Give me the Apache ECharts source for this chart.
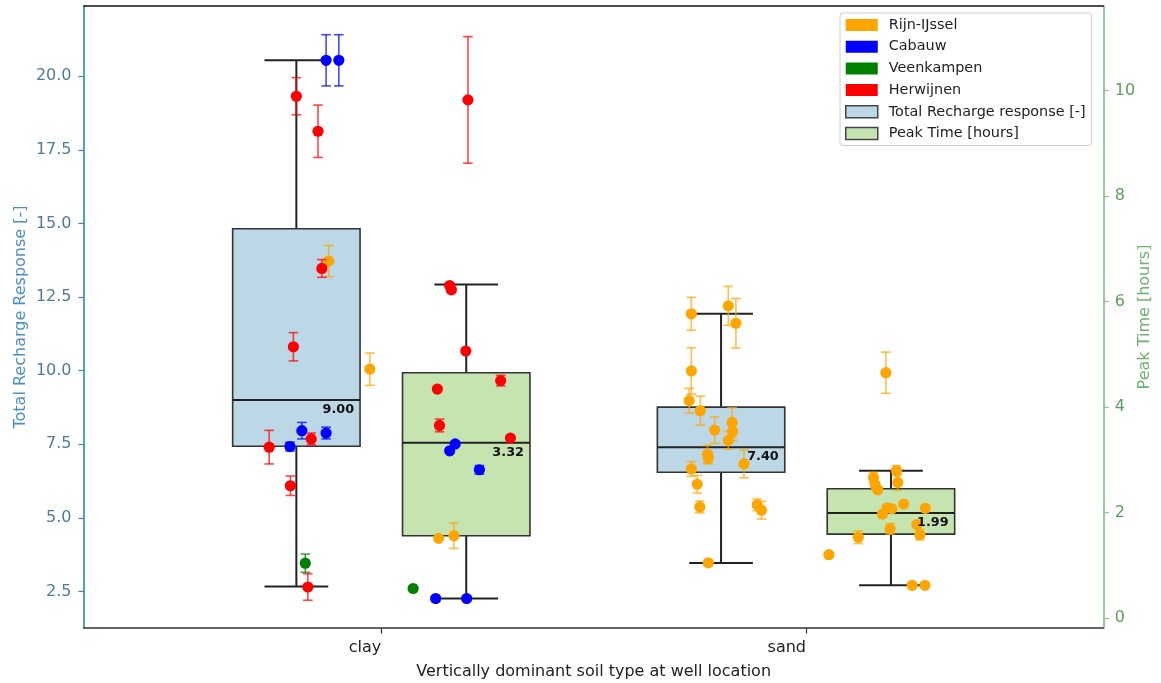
<!DOCTYPE html>
<html>
<head>
<meta charset="utf-8">
<script src="https://cdn.jsdelivr.net/npm/echarts@6/dist/echarts.min.js"></script>
<style>
html,body{margin:0;padding:0;background:#fff;}
#chart{width:1161px;height:683px;}
</style>
</head>
<body>
<div id="chart"></div>
<script>
// ---------------- DATA ----------------
const categories = ['clay', 'sand'];
const locations = ['Rijn-IJssel', 'Cabauw', 'Veenkampen', 'Herwijnen'];
const locColors = ['#ffa500', '#0000ff', '#008000', '#ff0000'];
const boxNames = ['Total Recharge response [-]', 'Peak Time [hours]'];
const boxColors = ['#bcd8e6', '#c6e4b0'];

// box stats per soil type: [lower whisker, Q1, median, Q3, upper whisker]
const rechargeBox = [
  [2.67, 7.43, 9.00, 14.82, 20.54],
  [3.47, 6.55, 7.40, 8.76, 11.93]
];
const peakBox = [
  [0.37, 1.56, 3.32, 4.65, 6.32],
  [0.62, 1.59, 1.99, 2.45, 2.79]
];

// points: [location index, jitter, value, error]
const clayRecharge = [
  [1, 0.070, 20.54, 0.87], [1, 0.100, 20.54, 0.87], [3, 0.000, 19.32, 0.63],
  [3, 0.051, 18.13, 0.89], [0, 0.076, 13.72, 0.53], [3, 0.060, 13.47, 0.30],
  [3, -0.007, 10.81, 0.48], [0, 0.173, 10.05, 0.55], [1, 0.013, 7.96, 0.28],
  [1, 0.070, 7.88, 0.20], [3, 0.035, 7.68, 0.20], [1, -0.015, 7.42, 0.15],
  [3, -0.064, 7.40, 0.57], [3, -0.014, 6.09, 0.33], [2, 0.021, 3.46, 0.31],
  [3, 0.027, 2.65, 0.45]
];
const clayPeak = [
  [3, 0.004, 9.82, 1.20], [3, -0.039, 6.30, 0.05], [3, -0.035, 6.22, 0.05],
  [3, -0.001, 5.06, 0.00], [3, -0.068, 4.34, 0.00], [3, 0.081, 4.50, 0.10],
  [3, -0.063, 3.65, 0.12], [3, 0.104, 3.41, 0.00], [1, -0.026, 3.30, 0.00],
  [1, -0.039, 3.17, 0.00], [1, 0.031, 2.81, 0.08], [0, -0.065, 1.51, 0.00],
  [0, -0.029, 1.56, 0.24], [2, -0.125, 0.56, 0.00], [1, -0.072, 0.37, 0.00],
  [1, 0.001, 0.37, 0.00]
];
const sandRecharge = [
  [0, -0.070, 11.93, 0.56], [0, 0.017, 12.20, 0.66], [0, 0.035, 11.61, 0.84],
  [0, -0.070, 9.99, 0.79], [0, -0.075, 8.98, 0.42], [0, -0.049, 8.64, 0.49],
  [0, -0.015, 7.98, 0.45], [0, 0.026, 8.24, 0.50], [0, 0.027, 7.93, 0.30],
  [0, 0.017, 7.63, 0.30], [0, -0.032, 7.16, 0.30], [0, -0.030, 7.03, 0.20],
  [0, 0.054, 6.83, 0.47], [0, -0.070, 6.66, 0.25], [0, -0.056, 6.14, 0.30],
  [0, -0.050, 5.37, 0.20], [0, 0.085, 5.44, 0.20], [0, 0.095, 5.26, 0.30],
  [0, -0.030, 3.47, 0.10]
];
const sandPeak = [
  [0, -0.012, 4.65, 0.39], [0, 0.013, 2.79, 0.10], [0, -0.041, 2.66, 0.10],
  [0, 0.016, 2.57, 0.15], [0, -0.037, 2.52, 0.05], [0, -0.031, 2.43, 0.05],
  [0, 0.030, 2.16, 0.00], [0, -0.009, 2.09, 0.05], [0, 0.002, 2.07, 0.00],
  [0, 0.081, 2.08, 0.00], [0, -0.020, 1.97, 0.05], [0, 0.061, 1.77, 0.05],
  [0, -0.002, 1.69, 0.10], [0, 0.068, 1.58, 0.10], [0, -0.077, 1.53, 0.12],
  [0, -0.146, 1.20, 0.00], [0, 0.050, 0.62, 0.00], [0, 0.080, 0.62, 0.00]
];

// tick labels
const rechargeTicks = [2.5, 5.0, 7.5, 10.0, 12.5, 15.0, 17.5, 20.0];
const peakTicks = [0, 2, 4, 6, 8, 10];

// ---------------- LAYOUT CONSTANTS ----------------
const FONT = 'DejaVu Sans, sans-serif';
const BOX_OFFSET = 0.2;
const BOX_WIDTH = 0.3;
const CAP_WIDTH = 0.15;
const MARK_R = 5.6;
const ERR_CAP = 4.8;

const chart = echarts.init(document.getElementById('chart'), null, {renderer: 'canvas'});

function renderBox(params, api) {
  const x = api.value(0);
  const lo = api.value(1), q1 = api.value(2), med = api.value(3), q3 = api.value(4), hi = api.value(5);
  const hw = BOX_WIDTH / 2, cw = CAP_WIDTH / 2;
  const tl = api.coord([x - hw, q3]);
  const br = api.coord([x + hw, q1]);
  const pMed = api.coord([x - hw, med]);
  const pMedR = api.coord([x + hw, med]);
  const pHi = api.coord([x, hi]);
  const pLo = api.coord([x, lo]);
  const pQ3 = api.coord([x, q3]);
  const pQ1 = api.coord([x, q1]);
  const capL = api.coord([x - cw, hi])[0];
  const capR = api.coord([x + cw, hi])[0];
  const fill = api.visual('color');
  const lineSty = {stroke: '#222', lineWidth: 2};
  return {
    type: 'group',
    children: [
      {type: 'line', shape: {x1: pHi[0], y1: pHi[1], x2: pQ3[0], y2: pQ3[1]}, style: lineSty},
      {type: 'line', shape: {x1: pQ1[0], y1: pQ1[1], x2: pLo[0], y2: pLo[1]}, style: lineSty},
      {type: 'line', shape: {x1: capL, y1: pHi[1], x2: capR, y2: pHi[1]}, style: lineSty},
      {type: 'line', shape: {x1: capL, y1: pLo[1], x2: capR, y2: pLo[1]}, style: lineSty},
      {type: 'rect', shape: {x: tl[0], y: tl[1], width: br[0] - tl[0], height: br[1] - tl[1]},
        style: {fill: fill, stroke: '#333', lineWidth: 1.6}},
      {type: 'line', shape: {x1: pMed[0], y1: pMed[1], x2: pMedR[0], y2: pMedR[1]}, style: lineSty}
    ]
  };
}

function renderMedianLabel(params, api) {
  const x = api.value(0), med = api.value(3);
  const p = api.coord([x + BOX_WIDTH / 2, med]);
  return {type: 'text', style: {text: med.toFixed(2), x: p[0] - 6, y: p[1] + 10,
    align: 'right', verticalAlign: 'middle', fontFamily: FONT, fontWeight: 'bold',
    fontSize: 12.8, fill: '#111'}};
}

function renderPoint(params, api) {
  const x = api.value(0), y = api.value(1), e = api.value(2);
  const c = api.coord([x, y]);
  const color = api.visual('color');
  const children = [];
  if (e > 0) {
    const top = api.coord([x, y + e]);
    const bot = api.coord([x, y - e]);
    const es = {stroke: color, lineWidth: 1.6, opacity: 0.72};
    children.push({type: 'line', shape: {x1: c[0], y1: top[1], x2: c[0], y2: bot[1]}, style: es});
    children.push({type: 'line', shape: {x1: c[0] - ERR_CAP, y1: top[1], x2: c[0] + ERR_CAP, y2: top[1]}, style: es});
    children.push({type: 'line', shape: {x1: c[0] - ERR_CAP, y1: bot[1], x2: c[0] + ERR_CAP, y2: bot[1]}, style: es});
  }
  children.push({type: 'circle', shape: {cx: c[0], cy: c[1], r: MARK_R}, style: {fill: color}});
  return {type: 'group', children: children};
}

const rechargeBoxData = rechargeBox.map((b, i) => [i - BOX_OFFSET].concat(b));
const peakBoxData = peakBox.map((b, i) => [i + BOX_OFFSET].concat(b));

const series = [];
// boxes
series.push({
  name: boxNames[0], type: 'custom', renderItem: renderBox, xAxisIndex: 0, yAxisIndex: 0, z: 2,
  itemStyle: {color: boxColors[0]}, encode: {x: 0, y: [1, 2, 3, 4, 5]}, data: rechargeBoxData
});
series.push({
  name: boxNames[1], type: 'custom', renderItem: renderBox, xAxisIndex: 0, yAxisIndex: 1, z: 2,
  itemStyle: {color: boxColors[1]}, encode: {x: 0, y: [1, 2, 3, 4, 5]}, data: peakBoxData
});
// points per location
const groups = [
  {pts: clayRecharge, cat: 0, off: -BOX_OFFSET, axis: 0},
  {pts: sandRecharge, cat: 1, off: -BOX_OFFSET, axis: 0},
  {pts: clayPeak, cat: 0, off: BOX_OFFSET, axis: 1},
  {pts: sandPeak, cat: 1, off: BOX_OFFSET, axis: 1}
];
locations.forEach((loc, li) => {
  [0, 1].forEach(axis => {
    const data = [];
    groups.filter(g => g.axis === axis).forEach(g => {
      g.pts.filter(p => p[0] === li).forEach(p => {
        data.push([g.cat + g.off + p[1], p[2], p[3]]);
      });
    });
    series.push({
      name: loc, type: 'custom', renderItem: renderPoint, xAxisIndex: 0, yAxisIndex: axis,
      z: 3 + li, itemStyle: {color: locColors[li]}, encode: {x: 0, y: 1}, data: data
    });
  });
});
// median labels on top
series.push({
  name: boxNames[0], type: 'custom', renderItem: renderMedianLabel, xAxisIndex: 0, yAxisIndex: 0, z: 20,
  itemStyle: {color: boxColors[0]}, encode: {x: 0, y: 3}, data: rechargeBoxData, silent: true
});
series.push({
  name: boxNames[1], type: 'custom', renderItem: renderMedianLabel, xAxisIndex: 0, yAxisIndex: 1, z: 20,
  itemStyle: {color: boxColors[1]}, encode: {x: 0, y: 3}, data: peakBoxData, silent: true
});

const legendData = locations.map((l, i) => ({name: l, itemStyle: {color: locColors[i], borderWidth: 0}}))
  .concat(boxNames.map((b, i) => ({name: b, itemStyle: {color: boxColors[i], borderColor: '#444', borderWidth: 1.5}})));

const option = {
  animation: false,
  backgroundColor: '#ffffff',
  textStyle: {fontFamily: FONT},
  grid: {left: 84, right: 57.7, top: 6, bottom: 55, containLabel: false, outerBoundsMode: 'none'},
  legend: {
    data: legendData, orient: 'vertical', left: 840, top: 13,
    icon: 'rect', itemWidth: 32, itemHeight: 12, itemGap: 7.7,
    padding: [5, 6, 5, 5], backgroundColor: 'rgba(255,255,255,0.85)',
    borderColor: '#cfcfcf', borderWidth: 1, borderRadius: 3,
    selectedMode: false,
    textStyle: {fontFamily: FONT, fontSize: 14.4, color: '#222', lineHeight: 14, padding: [0, 0, 0, 6]}
  },
  xAxis: [{
    type: 'value', min: -0.7, max: 1.7, position: 'bottom',
    axisLine: {show: true, onZero: false, lineStyle: {color: '#333', width: 1.6}},
    axisTick: {show: true, customValues: [0, 1], length: 5.6, lineStyle: {color: '#333', width: 1.2}},
    axisLabel: {show: true, customValues: [0, 1], formatter: v => categories[Math.round(v)] || '',
      align: 'right', fontFamily: FONT, fontSize: 16, color: '#222', margin: 12},
    splitLine: {show: false},
    name: 'Vertically dominant soil type at well location', nameLocation: 'middle', nameGap: 36,
    nameMoveOverlap: false,
    nameTextStyle: {fontFamily: FONT, fontSize: 16, color: '#222'}
  }, {
    type: 'value', min: -0.7, max: 1.7, position: 'top',
    axisLine: {show: true, onZero: false, lineStyle: {color: '#111', width: 1.6}},
    axisTick: {show: false}, axisLabel: {show: false}, splitLine: {show: false}
  }],
  yAxis: [{
    type: 'value', min: 1.258, max: 22.385, position: 'left',
    axisLine: {show: true, onZero: false, lineStyle: {color: '#3a9fa8', width: 1.8}},
    axisTick: {show: true, customValues: rechargeTicks, length: 5.6, lineStyle: {color: '#4a7fc0', width: 1.2}},
    axisLabel: {show: true, customValues: rechargeTicks, formatter: v => Number(v).toFixed(1),
      fontFamily: FONT, fontSize: 16, color: '#4f7b9b', margin: 12.5},
    splitLine: {show: false},
    name: 'Total Recharge Response [-]', nameLocation: 'middle', nameGap: 55,
    nameMoveOverlap: false,
    nameTextStyle: {fontFamily: FONT, fontSize: 16, color: '#4a90c2'}
  }, {
    type: 'value', min: -0.189, max: 11.60, position: 'right',
    axisLine: {show: true, onZero: false, lineStyle: {color: '#a2c9a2', width: 2.2}},
    axisTick: {show: true, customValues: peakTicks, length: 5.6, lineStyle: {color: '#8fbf8f', width: 1.2}},
    axisLabel: {show: true, customValues: peakTicks, formatter: v => String(Math.round(v)),
      fontFamily: FONT, fontSize: 16, color: '#5a9e5a', margin: 11.5},
    splitLine: {show: false},
    name: 'Peak Time [hours]', nameLocation: 'middle', nameGap: 34,
    nameMoveOverlap: false,
    nameTextStyle: {fontFamily: FONT, fontSize: 16, color: '#6cb46c'}
  }],
  series: series
};
chart.setOption(option);
</script>
</body>
</html>
